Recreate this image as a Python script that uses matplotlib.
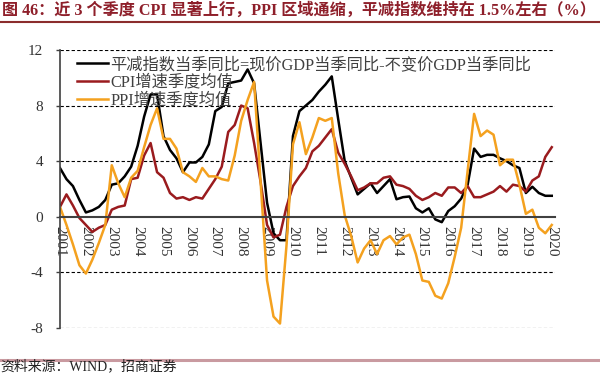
import matplotlib
matplotlib.use("Agg")
import matplotlib.pyplot as plt
from matplotlib.lines import Line2D

plt.rcParams['font.family'] = ['Liberation Serif', 'Noto Sans CJK SC', 'DejaVu Sans']

# quarterly data, 2001Q1 .. 2020Q1
years = [str(y) for y in range(2001, 2021)]

deflator = [3.5, 2.7, 2.2, 1.2, 0.3, 0.45, 0.7, 1.2, 2.3, 2.4, 2.9, 3.6,
            5.1, 7.2, 8.8, 8.8, 5.8, 4.8, 4.2, 3.2, 3.9, 3.9, 4.3, 5.2,
            7.6, 7.9, 9.6, 9.7, 9.8, 10.6, 9.6, 5.3, 1.0, -1.2, -1.7, -1.7,
            5.8, 7.6, 8.0, 8.4, 9.0, 9.5, 10.1, 7.0, 4.0, 2.8, 1.6, 2.0,
            2.4, 1.7, 2.2, 2.7, 1.25, 1.4, 1.45, 0.6, 0.3, 0.6, -0.2, -0.4,
            0.4, 0.75, 1.3, 2.3, 4.9, 4.3, 4.45, 4.45, 4.2, 4.0, 3.7, 3.5,
            1.7, 2.15, 1.7, 1.5, 1.5]

cpi = [0.7, 1.6, 0.8, -0.1, -0.6, -1.1, -0.8, -0.6, 0.5, 0.7, 0.8, 2.7,
       2.8, 4.4, 5.3, 3.2, 2.8, 1.7, 1.3, 1.4, 1.2, 1.4, 1.3, 2.0,
       2.7, 3.6, 6.1, 6.6, 8.0, 7.8, 5.3, 2.5, -0.6, -1.5, -1.3, 0.7,
       2.2, 2.9, 3.5, 4.7, 5.1, 5.7, 6.3, 4.6, 3.8, 2.9, 1.9, 2.1,
       2.4, 2.4, 2.8, 2.9, 2.3, 2.2, 2.0, 1.5, 1.2, 1.4, 1.7, 1.5,
       2.1, 2.1, 1.7, 2.2, 1.4, 1.4, 1.6, 1.8, 2.2, 1.8, 2.3, 2.2,
       1.8, 2.6, 2.9, 4.3, 5.0]

ppi = [0.7, -0.6, -2.0, -3.5, -4.1, -3.1, -1.9, -0.6, 3.7, 2.4, 1.4, 2.8,
       3.3, 5.0, 6.6, 7.8, 5.6, 5.6, 4.9, 3.2, 2.9, 2.5, 3.5, 2.9,
       2.9, 2.7, 2.6, 4.4, 6.9, 8.4, 9.7, 2.5, -4.6, -7.2, -7.7, -2.1,
       5.2, 6.8, 4.5, 5.7, 7.1, 6.9, 7.1, 3.1, 0.1, -1.4, -3.3, -2.3,
       -1.7, -2.7, -1.7, -1.4, -2.0, -1.5, -1.3, -2.7, -4.6, -4.7, -5.7, -5.9,
       -4.8, -2.9, -0.8, 3.3, 7.4, 5.8, 6.2, 5.9, 3.7, 4.1, 4.1, 2.3,
       0.2, 0.5, -0.8, -1.2, -0.6]

labels = ['平减指数当季同比=现价GDP当季同比-不变价GDP当季同比',
          'CPI增速季度均值', 'PPI增速季度均值']
colors = ['#000000', '#9A1B1E', '#F4A11F']

title = '图 46：近 3 个季度 CPI 显著上行，PPI 区域通缩，平减指数维持在 1.5%左右（%）'
source = '资料来源：WIND，招商证券'

W, H = 600, 376
fig = plt.figure(figsize=(W / 100, H / 100), dpi=100)
ax = fig.add_axes([60 / W, 1 - 327.7 / H, 495 / W, 277.7 / H])

x = list(range(len(deflator)))
for ys, c, lab in zip([deflator, cpi, ppi], colors, labels):
    ax.plot(x, ys, color=c, lw=1.8, label=lab)

ax.set_xlim(0, 76.5)
ax.set_ylim(-8, 12)
for g in [-8, -4, 4, 8, 12]:
    ax.axhline(g, color='black', lw=0.8, ls=(0, (3, 2)), zorder=0)

ax.spines['top'].set_visible(False)
ax.spines['right'].set_visible(False)
ax.spines['bottom'].set_position(('data', 0))
ax.spines['bottom'].set_color('#404040')
ax.spines['bottom'].set_linewidth(1.5)
ax.spines['left'].set_color('#404040')
ax.spines['left'].set_linewidth(1.2)

ax.set_yticks([-8, -4, 0, 4, 8, 12])
ax.set_yticklabels(['-8', '-4', '0', '4', '8', '12'])
ax.tick_params(axis='y', length=3, width=1, color='#404040', pad=9,
               labelsize=11, labelcolor='#333333')
ax.set_xticks(list(range(0, 77, 4)))
ax.set_xticklabels(years, rotation=-90, va='top', ha='center')
ax.tick_params(axis='x', length=0, pad=7, labelsize=11, labelcolor='#333333')

leg = ax.legend(loc='upper left', bbox_to_anchor=(0.034, 0.975), frameon=False,
                borderaxespad=0, borderpad=0, handlelength=1.9,
                handletextpad=0.15, labelspacing=0.12, fontsize=11.7)
for t in leg.get_texts():
    t.set_color('#404040')

fig.text(0.003, 1 - 10.5 / H, title, fontsize=11.6, fontweight='bold',
         color='#8E1F2A', va='center', ha='left')
fig.add_artist(Line2D([0, 1], [1 - 22 / H] * 2, color='#8B2D2D', lw=1.5))
fig.add_artist(Line2D([0, 1], [1 - 359.5 / H] * 2, color='#C99AA0', lw=2.2))
fig.text(0.0, 1 - 366 / H, source, fontsize=10, color='#222222',
         va='center', ha='left')

fig.savefig('out.png', dpi=100)
